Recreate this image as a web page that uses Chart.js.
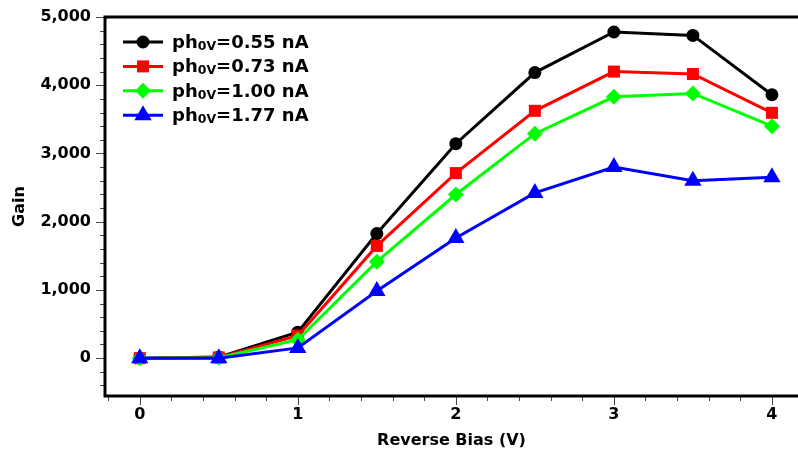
<!DOCTYPE html>
<html>
<head>
<meta charset="utf-8">
<script src="https://cdn.jsdelivr.net/npm/chart.js@4.4.1/dist/chart.umd.min.js"></script>
<style>
    html, body { margin: 0; padding: 0; background: #fff; }
    #wrap { width: 798px; height: 458px; position: relative; }
</style>
</head>
<body>
<div id="wrap"><canvas id="grafico"></canvas></div>
<script>
// DATOS
const voltajes = [0, 0.5, 1, 1.5, 2, 2.5, 3, 3.5, 4];
const gain055 = [0, 15, 380, 1826, 3143, 4185, 4780, 4730, 3860];
const gain073 = [0, 10, 330, 1645, 2712, 3625, 4200, 4165, 3595];
const gain100 = [0, 5, 270, 1414, 2398, 3290, 3830, 3880, 3400];
const gain177 = [0, 0, 150, 985, 1760, 2422, 2800, 2600, 2650];

const etiquetas = ['0.55 nA', '0.73 nA', '1.00 nA', '1.77 nA'];
const colores = ['#000000', '#ff0000', '#00ff00', '#0000ff'];
const marcadores = ['circle', 'rect', 'rectRot', 'triangle'];
const radios = [6.5, 8.5, 8, 10];

const ticksX = [0, 1, 2, 3, 4];
const ticksY = [0, 1000, 2000, 3000, 4000, 5000];

const FUENTE = '"DejaVu Sans", Verdana, sans-serif';

function puntos(serie){
    return voltajes.map((v, i) => ({x: v, y: serie[i]}));
}

const series = [gain055, gain073, gain100, gain177];

let datasets = series.map((s, i) => ({
    label: etiquetas[i],
    data: puntos(s),
    borderColor: colores[i],
    backgroundColor: colores[i],
    borderWidth: 3,
    pointStyle: marcadores[i],
    pointRadius: radios[i],
    pointBorderWidth: 0,
    pointBorderColor: colores[i],
    pointBackgroundColor: colores[i],
    order: 3 - i,
    tension: 0
}));

// BORDE SUPERIOR, TICKS MENORES Y LEYENDA
const extras = {
    id: 'extras',
    afterDraw(chart){
        let ctx = chart.ctx;
        let a = chart.chartArea;
        let sx = chart.scales.x;
        let sy = chart.scales.y;

        ctx.save();

        // ticks
        ctx.strokeStyle = '#444';
        ctx.lineWidth = 1;
        for(let k = -1; k <= 20; k++){
            let v = k * 0.2;
            let px = Math.round(sx.getPixelForValue(v)) + 0.5;
            if(px > chart.width) continue;
            let largo = (k % 5 === 0) ? 9 : 5;
            ctx.beginPath();
            ctx.moveTo(px, a.bottom);
            ctx.lineTo(px, a.bottom + largo);
            ctx.stroke();
        }
        for(let k = -2; k <= 25; k++){
            let v = k * 200;
            let py = Math.round(sy.getPixelForValue(v)) + 0.5;
            let largo = (k % 5 === 0) ? 9 : 5;
            ctx.beginPath();
            ctx.moveTo(a.left, py);
            ctx.lineTo(a.left - largo, py);
            ctx.stroke();
        }

        // bordes
        ctx.strokeStyle = '#000';
        ctx.lineWidth = 3;
        ctx.beginPath();
        ctx.moveTo(chart.width, a.top);
        ctx.lineTo(a.left, a.top);
        ctx.lineTo(a.left, a.bottom);
        ctx.lineTo(chart.width, a.bottom);
        ctx.stroke();

        // leyenda
        let y0 = 42;
        let paso = 24.4;
        etiquetas.forEach((et, i) => {
            let y = y0 + i * paso;
            ctx.strokeStyle = colores[i];
            ctx.lineWidth = 3;
            ctx.beginPath();
            ctx.moveTo(123, y);
            ctx.lineTo(163, y);
            ctx.stroke();

            ctx.fillStyle = colores[i];
            Chart.helpers.drawPoint(ctx, {
                pointStyle: marcadores[i],
                radius: radios[i],
                borderWidth: 0,
                rotation: 0
            }, 143, y);

            ctx.fillStyle = '#000';
            ctx.textBaseline = 'alphabetic';
            ctx.textAlign = 'left';
            let base = y + 6;
            ctx.font = 'bold 18px ' + FUENTE;
            ctx.fillText('ph', 172, base);
            let w = ctx.measureText('ph').width;
            ctx.font = 'bold 12.5px ' + FUENTE;
            ctx.fillText('0V', 172 + w, base + 2);
            let w2 = ctx.measureText('0V').width;
            ctx.font = 'bold 18px ' + FUENTE;
            ctx.fillText('=' + et, 172 + w + w2, base);
        });

        ctx.restore();
    }
};

// GRAFICO
let chart = new Chart(document.getElementById('grafico'), {
    type: 'line',
    data: { datasets: datasets },
    plugins: [extras],
    options: {
        responsive: true,
        maintainAspectRatio: false,
        animation: false,
        layout: { autoPadding: false, padding: { top: 17, right: 0, left: 0, bottom: 0 } },
        plugins: {
            legend: { display: false },
            tooltip: { enabled: false }
        },
        scales: {
            x: {
                type: 'linear',
                min: -0.22,
                max: 4.165,
                afterBuildTicks: s => { s.ticks = ticksX.map(v => ({value: v})); },
                afterFit: s => { s.height = 62; },
                grid: { display: true, drawOnChartArea: false, drawTicks: true, tickLength: 9, color: 'rgba(0,0,0,0)' },
                border: { display: false },
                ticks: {
                    padding: 0,
                    color: '#000',
                    font: { family: FUENTE, size: 16, weight: 'bold' },
                    callback: v => v
                },
                title: {
                    display: true,
                    text: 'Reverse Bias (V)',
                    color: '#000',
                    padding: { top: 0, bottom: 8 },
                    font: { family: FUENTE, size: 16, weight: 'bold' }
                }
            },
            y: {
                min: -555,
                max: 5000,
                afterBuildTicks: s => { s.ticks = ticksY.map(v => ({value: v})); },
                afterFit: s => { s.width = 105; },
                grid: { display: true, drawOnChartArea: false, drawTicks: true, tickLength: 14, color: 'rgba(0,0,0,0)' },
                border: { display: false },
                ticks: {
                    padding: 0,
                    color: '#000',
                    font: { family: FUENTE, size: 16, weight: 'bold' },
                    callback: v => new Intl.NumberFormat('en-US').format(v)
                },
                title: {
                    display: true,
                    text: 'Gain',
                    color: '#000',
                    padding: { top: 10, bottom: 0 },
                    font: { family: FUENTE, size: 16, weight: 'bold' }
                }
            }
        }
    }
});
</script>
</body>
</html>
